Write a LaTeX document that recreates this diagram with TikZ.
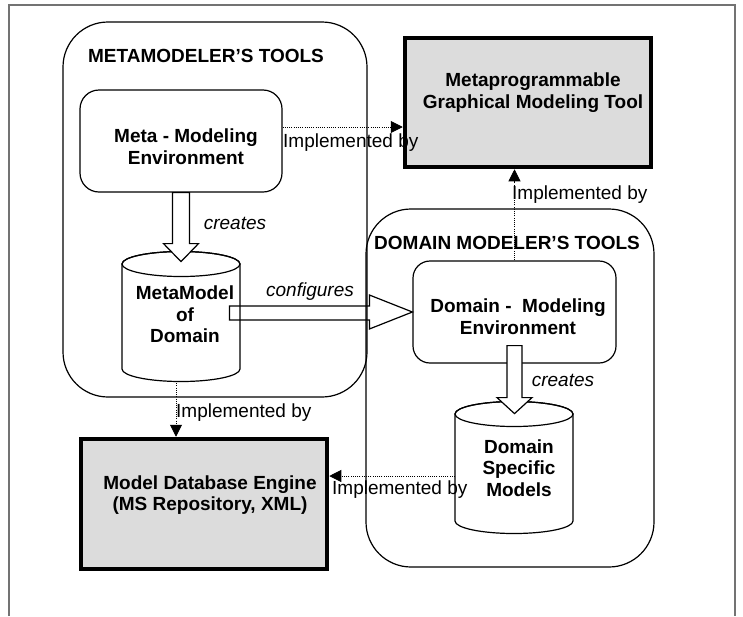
\documentclass[tikz,border=0pt]{standalone}
\usepackage{fontspec}
\setmainfont{Liberation Sans}
\usetikzlibrary{arrows.meta,calc}
\definecolor{boxgray}{HTML}{DCDCDC}
\begin{document}
\begin{tikzpicture}[x=1pt,y=-1pt,
 every node/.style={font=\fontsize{19}{21.5}\selectfont, inner sep=0pt, align=center},
 bold/.style={font=\fontsize{19}{21.5}\selectfont\bfseries},
 ital/.style={font=\fontsize{19}{21.5}\selectfont\itshape},
 container/.style={draw, line width=1.2pt, rounded corners=45pt},
 envbox/.style={draw, fill=white, line width=1.2pt, rounded corners=19pt},
 toolbox/.style={draw, fill=boxgray, line width=4.5pt},
 hollow/.style={draw, fill=white, line width=1.2pt, line join=miter},
 cyl/.style={draw, fill=white, line width=1.2pt},
 impl/.style={line width=0.9pt, dash pattern=on 1pt off 1.2pt, -{Triangle[length=12pt,width=12pt]}},
 frame/.style={draw=black!55, line width=1.2pt},
]
\useasboundingbox (0,0) rectangle (743,616);
% page frame
\draw[frame] (9,616) -- (9,5) -- (735,5) -- (735,616);

% containers
\node[container, minimum width=304pt, minimum height=375pt] (metatools) at (215,209.5) {};
\node[container, minimum width=288pt, minimum height=358pt] (domtools) at (510,388) {};

% boxes
\node[envbox, minimum width=202pt, minimum height=102pt] (metaenv) at (181,141) {};
\node[envbox, minimum width=203pt, minimum height=102pt, rounded corners=17pt] (domenv) at (514.5,312) {};
\node[toolbox, minimum width=246pt, minimum height=129pt] (metaprog) at (528,102.5) {};
\node[toolbox, minimum width=246pt, minimum height=130pt] (modeldb) at (204,504) {};

% cylinder 1
\path[cyl] (122,264) -- (122,369) arc[start angle=180, end angle=360, x radius=59pt, y radius=12.5pt]
  -- (240,264) arc[start angle=0, end angle=180, x radius=59pt, y radius=12.5pt] -- cycle;
\draw[line width=1.2pt] (181,264) ellipse [x radius=59pt, y radius=12.5pt];
\coordinate (cyl1s) at (176,381);
% cylinder 2
\path[cyl] (455,414) -- (455,521) arc[start angle=180, end angle=360, x radius=59pt, y radius=12.5pt]
  -- (573,414) arc[start angle=0, end angle=180, x radius=59pt, y radius=12.5pt] -- cycle;
\draw[line width=1.2pt] (514,414) ellipse [x radius=59pt, y radius=12.5pt];
\coordinate (cyl2w) at (455,476);

% hollow arrows
\path[hollow] (metaenv.south) ++(-8.5,0) -- ++(0,51) -- ++(-9,0) -- ++(17.5,18) -- ++(17.5,-18) -- ++(-9,0) -- ++(0,-51) -- cycle;
\path[hollow] ([yshift=18pt]domenv.south) ++(-7.5,0) -- ++(0,52) -- ++(-10,0) -- ++(17.5,16) -- ++(17.5,-16) -- ++(-10,0) -- ++(0,-52) -- cycle;
\path[draw, line width=1.2pt, line join=miter] (domenv.west) -- ++(-43,-17) -- ++(0,11) -- ++(-140,0) -- ++(0,14) -- ++(140,0) -- ++(0,9) -- cycle;

% dotted "implemented by" arrows
\draw[impl] ([yshift=14pt]metaenv.east) coordinate (a1) -- (a1 -| metaprog.west);
\draw[impl] (domenv.north) -- (domenv.north |- metaprog.south);
\draw[impl] (cyl1s) -- (cyl1s |- modeldb.north);
\draw[impl] (cyl2w) -- (cyl2w -| modeldb.east);

% texts
\node[bold] (t1) at (206,56) {METAMODELER’S TOOLS};
\node[bold] (t2) at (507,243) {DOMAIN MODELER’S TOOLS};
\node[bold] (metaenvtxt) at (186,146.5) {Meta - Modeling\\Environment};
\node[bold] (metaprogtxt) at (533,92.5) {Metaprogrammable\\Graphical Modeling Tool};
\node[bold] (domenvtxt) at (518,316.5) {Domain -\ \ Modeling\\Environment};
\node[bold] (cyl1txt) at (185,314.5) {MetaModel\\of\\Domain};
\node[bold] (cyl2txt) at (519,468) {Domain\\Specific\\Models};
\node[bold] (dbtxt) at (210,495) {Model Database Engine\\(MS Repository, XML)};

\node[anchor=west] (l1) at (283,143) {Implemented by};
\node[anchor=west] (l2) at (512,195) {Implemented by};
\node[anchor=west] (l3) at (176,413) {Implemented by};
\node[anchor=west] (l4) at (332,490) {Implemented by};
\node[ital] (c1) at (235,223) {creates};
\node[ital] (c2) at (563,380) {creates};
\node[ital] (c3) at (310,292) {configures};
\end{tikzpicture}
\end{document}
